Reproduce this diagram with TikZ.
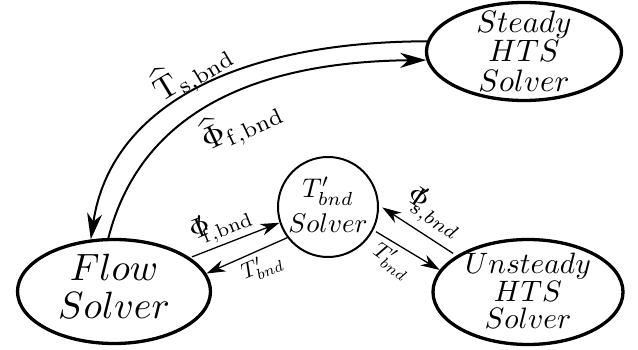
\documentclass[tikz,border=0pt]{standalone}
\usetikzlibrary{shapes.geometric, arrows.meta}
\tikzset{
  solver/.style={draw, ellipse, line width=3.3pt, inner sep=0pt},
  circsolver/.style={draw, circle, line width=2pt, inner sep=0pt, minimum size=100pt},
  solvertext/.style={align=center, inner sep=0pt},
  lbl/.style={inner sep=0pt, font=\fontsize{10}{12}\selectfont},
  bigarrow/.style={line width=2pt, -{Stealth[length=26pt,width=15pt,inset=8pt]}},
  smallarrow/.style={line width=1.3pt, -{Stealth[length=19pt,width=12pt,inset=6pt]}},
}
\begin{document}
\begin{tikzpicture}[x=1pt, y=-1pt]
\useasboundingbox (0,0) rectangle (638,350);
% nodes
\node[solver, minimum width=193pt, minimum height=104pt] (flow) at (114,291.5) {};
\node[solvertext, scale=3.8, font=\fontsize{10}{10}\selectfont] (flowtxt) at (114,286) {$Flow$\\$Solver$};

\node[solver, minimum width=195pt, minimum height=98pt] (steady) at (524,51.5) {};
\node[solvertext, scale=3.1, font=\fontsize{10}{9.5}\selectfont] (steadytxt) at (524,51) {$Steady$\\$HTS$\\$Solver$};

\node[solver, minimum width=190pt, minimum height=105pt] (unsteady) at (528,292) {};
\node[solvertext, scale=2.95, font=\fontsize{10}{9.4}\selectfont] (unsteadytxt) at (528,291) {$Unsteady$\\$HTS$\\$Solver$};

\node[circsolver] (circ) at (328,207) {};
\node[solvertext, scale=2.7, font=\fontsize{10}{13}\selectfont] (circtxt) at (328,205) {$T'_{bnd}$\\$Solver$};

% big arcs
\draw[bigarrow] (steady.174) .. controls (230,42) and (110,110) .. (flow.114);
\draw[bigarrow] (flow.96) .. controls (140,115) and (250,62) .. (steady.185);
\node[lbl, scale=3.2, rotate=31] (lts) at (192,71) {$\widehat{\mathrm{T}}_{\mathrm{s,bnd}}$};
\node[lbl, scale=3.2, rotate=25] (lpf) at (241,124) {$\widehat{\Phi}_{\mathrm{f,bnd}}$};

% small arrows
\draw[smallarrow, shorten <=2pt] (flow.24) -- (circ.198);
\draw[smallarrow] (circ.217) -- (flow.11);
\draw[smallarrow, shorten <=4pt, shorten >=4pt] (unsteady.153) -- (circ.2);
\draw[smallarrow, shorten <=3pt] (circ.333) -- (unsteady.166);
\node[lbl, scale=2.8, rotate=22] (l1) at (221,224) {$\Phi\mkern-7mu'_{\mathrm{f},\mathrm{bnd}}$};
\node[lbl, scale=2.2, rotate=23] (l2) at (262,267) {$T'_{bnd}$};
\node[lbl, scale=2.8, rotate=-34] (l3) at (434,213) {$\Phi\mkern-7mu'_{s,bnd}$};
\node[lbl, scale=2.2, rotate=-35] (l4) at (392,261) {$T'_{bnd}$};
\end{tikzpicture}
\end{document}
